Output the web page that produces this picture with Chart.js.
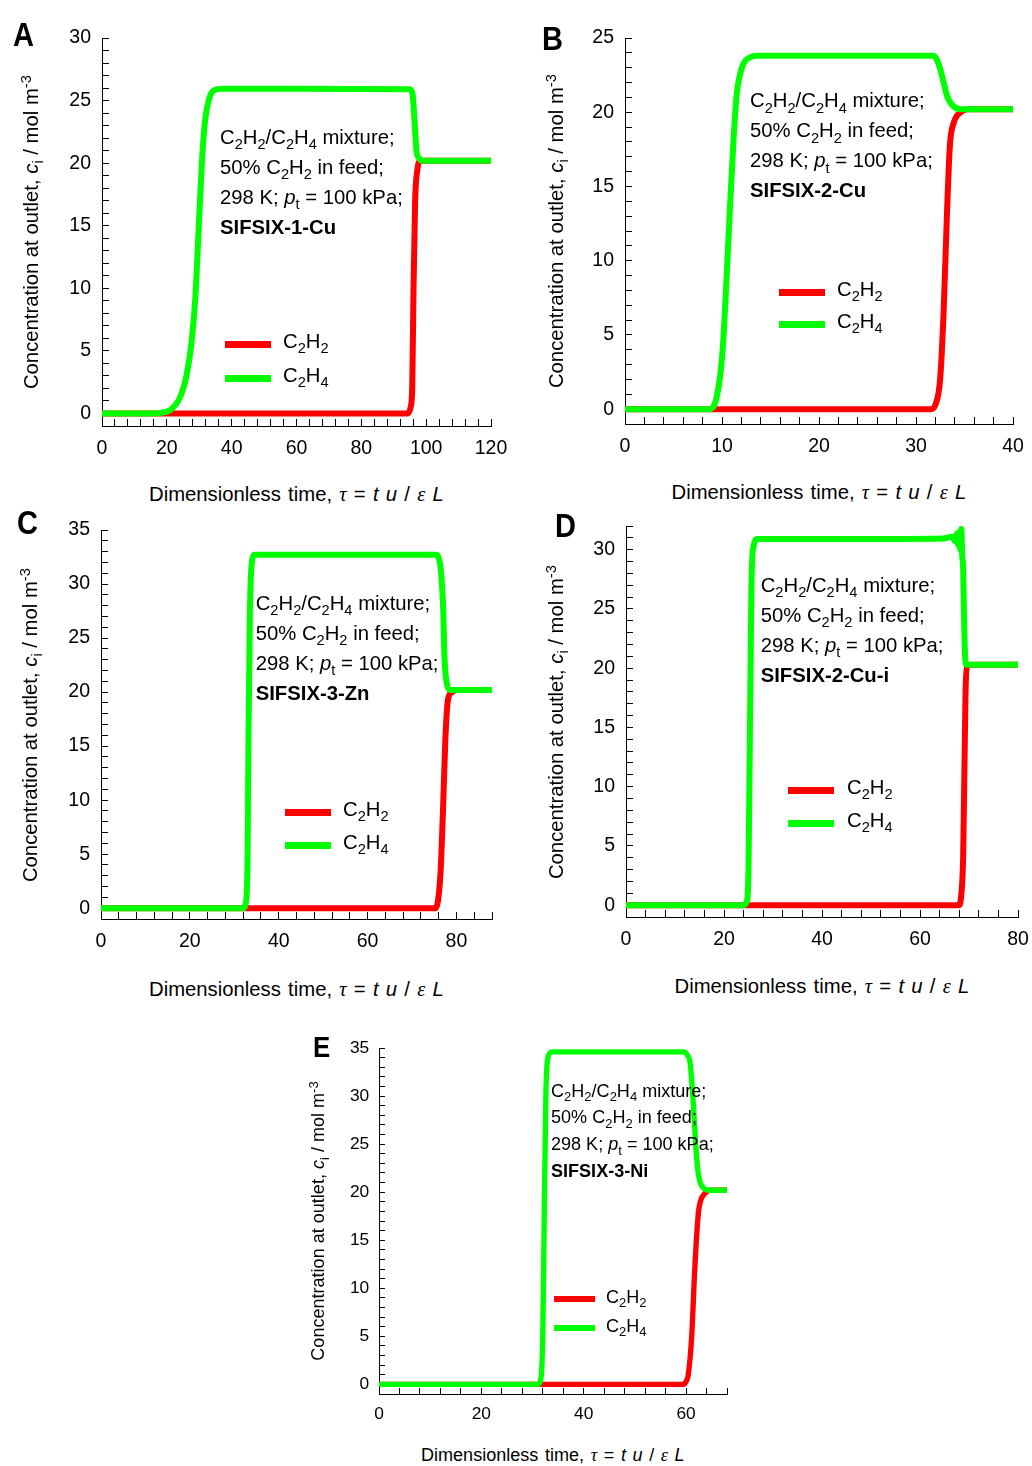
<!DOCTYPE html>
<html>
<head>
<meta charset="utf-8">
<script src="https://cdn.jsdelivr.net/npm/chart.js@4.4.1/dist/chart.umd.min.js"></script>
<style>
  body { margin: 0; background: #fff; overflow: hidden; }
  #page { position: relative; width: 1032px; height: 1466px; font-family: "Liberation Sans", Arial, sans-serif; color: #000; }
  #page canvas { position: absolute; }
  .txt { position: absolute; white-space: nowrap; line-height: 1; }
  .txt sub, .txt sup { font-size: 0.72em; line-height: 0; position: relative; vertical-align: baseline; }
  .txt sub { top: 0.36em; }
  .txt sup { top: -0.5em; }
  .letter { font-weight: bold; transform: scaleX(0.88); transform-origin: 0 0; }
  .xtitle { word-spacing: 1.6px; }
  .key { position: absolute; }
  .greek { font-family: "Liberation Serif", "Times New Roman", serif; font-style: italic; }
</style>
</head>
<body>
<div id="page"></div>
<script>
// Breakthrough curves at the column outlet, one pair per adsorbent.
// tau = dimensionless time, c = concentration (mol m^-3)

// A: SIFSIX-1-Cu
const tauA_C2H4 = [0, 15, 18, 21, 24.1, 26.2, 27.7, 28.8, 29.8, 30.8, 31.8, 32.9, 34.4, 37.5, 60, 95.0, 95.8, 96.5, 97.0, 97.8, 98.5, 120];
const cA_C2H4   = [0, 0, 0.05, 0.26, 1.3, 3.2, 5.9, 9.3, 14.6, 20.0, 23.4, 25.0, 25.8, 25.95, 25.95, 25.9, 25.5, 23.0, 21.0, 20.4, 20.2, 20.2];
const tauA_C2H2 = [0, 94.3, 95.2, 95.7, 96.1, 96.6, 97.3, 98.3, 120];
const cA_C2H2   = [0, 0, 0.5, 2, 10, 17, 19.5, 20.2, 20.2];

// B: SIFSIX-2-Cu
const tauB_C2H4 = [0, 8.6, 9.1, 9.78, 10.1, 10.47, 10.8, 11.16, 11.5, 12.0, 12.9, 13.7, 31.8, 32.1, 32.5, 32.85, 33.2, 33.7, 34.6, 40];
const cB_C2H4   = [0, 0, 0.15, 2.1, 4.3, 8.8, 13.3, 17.8, 21.1, 22.9, 23.7, 23.8, 23.8, 23.6, 22.9, 22.0, 21.1, 20.5, 20.2, 20.2];
const tauB_C2H2 = [0, 31.5, 32.0, 32.5, 32.85, 33.2, 33.5, 33.9, 34.6, 35.4, 40];
const cB_C2H2   = [0, 0, 0.3, 2.1, 6.6, 13.3, 17.8, 19.3, 20.0, 20.2, 20.2];

// C: SIFSIX-3-Zn
const tauC_C2H4 = [0, 32.0, 32.6, 33.0, 33.2, 33.5, 33.9, 34.6, 75.5, 76.0, 76.4, 77.0, 77.3, 77.9, 78.6, 88];
const cC_C2H4   = [0, 0, 0.5, 5, 16, 27, 31.8, 32.7, 32.7, 32.4, 31.6, 27.9, 23.3, 20.65, 20.2, 20.2];
const tauC_C2H2 = [0, 75.3, 76.4, 77.0, 77.5, 78.1, 79.0, 80.0, 88];
const cC_C2H2   = [0, 0, 3.2, 9.4, 15.6, 19.3, 20.0, 20.2, 20.2];

// D: SIFSIX-2-Cu-i (small oscillation just before the roll-up ends)
const tauD_C2H4 = [0, 24.0, 24.7, 25.0, 25.3, 25.6, 26.0, 26.8, 45, 64.7, 66.5, 67.2, 67.5, 67.8, 68.0, 68.2, 68.45, 68.6, 68.8, 69.0, 69.2, 69.5, 80];
const cD_C2H4   = [0, 0, 0.4, 3, 15, 27, 30.2, 30.9, 30.9, 30.95, 31.1, 30.7, 31.35, 30.4, 31.5, 30.0, 31.75, 29.6, 28.5, 24, 21, 20.3, 20.3];
const tauD_C2H2 = [0, 67.9, 68.4, 68.8, 69.1, 69.3, 69.6, 70.5, 80];
const cD_C2H2   = [0, 0, 0.8, 4, 12.4, 18, 20.1, 20.3, 20.3];

// E: SIFSIX-3-Ni
const tauE_C2H4 = [0, 31.0, 31.6, 32.0, 32.3, 32.6, 33.0, 33.8, 59.5, 60.2, 60.8, 61.4, 61.9, 62.3, 62.7, 63.7, 64.5, 68];
const cE_C2H4   = [0, 0, 0.5, 5, 18, 30, 34, 34.6, 34.6, 34.3, 33.4, 29.3, 24.8, 22.3, 21.1, 20.3, 20.2, 20.2];
const tauE_C2H2 = [0, 59.5, 60.0, 60.4, 61.1, 61.7, 62.4, 62.9, 63.4, 64.7, 68];
const cE_C2H2   = [0, 0, 0.3, 0.9, 5.0, 12.0, 17.8, 19.2, 19.7, 20.2, 20.2];

// axis ranges: [min, max, minor step, labelled step]
const xAxisA = [0, 120, 4, 20], yAxisA = [-1, 30, 1, 5];
const xAxisB = [0, 40, 2, 10],  yAxisB = [-1, 25, 1, 5];
const xAxisC = [0, 88, 4, 20],  yAxisC = [-1, 35, 1, 5];
const xAxisD = [0, 80, 4, 20],  yAxisD = [-1, 32, 1, 5];
const xAxisE = [0, 68, 4, 20],  yAxisE = [-1, 35, 1, 5];

const materials = ['SIFSIX-1-Cu', 'SIFSIX-2-Cu', 'SIFSIX-3-Zn', 'SIFSIX-2-Cu-i', 'SIFSIX-3-Ni'];

const RED = '#ff0000';
const GREEN = '#00ff00';

// layout of each panel: plot box [left, top, right, bottom], s = text scale.
// text anchors are baselines: letter [x, base], note [x, first base], key [bar x, red y, green y, text x]
const panels = [
  { tag: 'A', plot: [102, 38, 491, 426], x: xAxisA, y: yAxisA, green: [tauA_C2H4, cA_C2H4], red: [tauA_C2H2, cA_C2H2], name: materials[0],
    s: 1, letter: [13, 46], note: [220, 144], key: [225, 344, 378, 283], xTitleBase: 501, yTitleBase: 37.7 },
  { tag: 'B', plot: [625, 38, 1013, 424], x: xAxisB, y: yAxisB, green: [tauB_C2H4, cB_C2H4], red: [tauB_C2H2, cB_C2H2], name: materials[1],
    s: 1, letter: [542, 50], note: [750, 107.3], key: [779, 292, 324, 837], xTitleBase: 499, yTitleBase: 562.7 },
  { tag: 'C', plot: [101, 530, 492, 919], x: xAxisC, y: yAxisC, green: [tauC_C2H4, cC_C2H4], red: [tauC_C2H2, cC_C2H2], name: materials[2],
    s: 1, letter: [17, 534], note: [255.7, 610], key: [285, 812, 845, 343], xTitleBase: 995.7, yTitleBase: 37.3 },
  { tag: 'D', plot: [626, 526, 1018, 917], x: xAxisD, y: yAxisD, green: [tauD_C2H4, cD_C2H4], red: [tauD_C2H2, cD_C2H2], name: materials[3],
    s: 1, letter: [555, 536.7], note: [760.7, 591.7], key: [788, 790, 823, 847], xTitleBase: 993.3, yTitleBase: 562.7 },
  { tag: 'E', plot: [379, 1048, 727, 1394], x: xAxisE, y: yAxisE, green: [tauE_C2H4, cE_C2H4], red: [tauE_C2H2, cE_C2H2], name: materials[4],
    s: 0.89, letter: [313, 1057.3], note: [551, 1097.3], key: [554, 1299, 1328, 606], xTitleBase: 1461.7, yTitleBase: 323.3 }
];

const page = document.getElementById('page');
const FONT = '"Liberation Sans", Arial, sans-serif';
const BASE = 0.8465; // baseline offset (em) inside a line-height:1 box

function toPoints(tau, c) {
  return tau.map((t, i) => ({ x: t, y: c[i] }));
}

function addText(html, left, top, size, extra) {
  const d = document.createElement('div');
  d.className = 'txt' + (extra ? ' ' + extra : '');
  d.style.left = left + 'px';
  d.style.top = top + 'px';
  d.style.fontSize = size + 'px';
  d.innerHTML = html;
  page.appendChild(d);
  return d;
}

function axisOptions(range, fs, tl, pad, fitSize, horizontal) {
  const [min, max, step, major] = range;
  return {
    type: 'linear',
    min: min,
    max: max,
    border: { display: true, color: '#000', width: 1 },
    grid: { drawOnChartArea: false, drawTicks: true, tickLength: tl, color: '#000', lineWidth: 1 },
    ticks: {
      stepSize: step,
      autoSkip: false,
      maxRotation: 0,
      padding: pad,
      color: '#000',
      font: { family: FONT, size: fs },
      callback: v => (v >= 0 && Math.abs(v % major) < 1e-9) ? String(v) : ''
    },
    afterFit: s => { if (horizontal) s.height = fitSize; else s.width = fitSize; }
  };
}

function drawPanel(p) {
  const [L, T, R, B] = p.plot;
  const padL = 70, padT = 45, padR = 50, padB = 40;
  const s = p.s;
  const tickFs = 19.5 * s;   // tick labels
  const fs = 20.3 * s;       // titles, note, legend
  const tl = -Math.round(7 * s);

  const cv = document.createElement('canvas');
  cv.width = R - L + padL + padR;
  cv.height = B - T + padT + padB;
  cv.style.left = (L - padL) + 'px';
  cv.style.top = (T - padT) + 'px';
  page.appendChild(cv);

  const lw = 6 * s;
  new Chart(cv, {
    type: 'line',
    data: {
      datasets: [
        { label: 'C2H4', data: toPoints(p.green[0], p.green[1]), borderColor: GREEN, borderWidth: lw,
          pointRadius: 0, fill: false, cubicInterpolationMode: 'monotone', borderJoinStyle: 'round' },
        { label: 'C2H2', data: toPoints(p.red[0], p.red[1]), borderColor: RED, borderWidth: lw,
          pointRadius: 0, fill: false, cubicInterpolationMode: 'monotone', borderJoinStyle: 'round' }
      ]
    },
    options: {
      responsive: false,
      animation: false,
      events: [],
      layout: { padding: { left: 0, top: padT, right: padR, bottom: 0 } },
      plugins: { legend: { display: false }, tooltip: { enabled: false } },
      scales: {
        x: axisOptions(p.x, tickFs, tl, 23 * s - tickFs * 0.6 - tl, padB, true),
        y: axisOptions(p.y, tickFs, tl, 11 * s - tl, padL, false)
      }
    }
  });

  // panel letter
  const lfs = 33 * s;
  addText(p.tag, p.letter[0], p.letter[1] - BASE * lfs, lfs, 'letter');

  // conditions note
  const lh = 30 * s;
  const noteTop = p.note[1] - ((lh - 1.117 * fs) / 2 + 0.905 * fs);
  const note = addText(
    'C<sub>2</sub>H<sub>2</sub>/C<sub>2</sub>H<sub>4</sub> mixture;<br>' +
    '50% C<sub>2</sub>H<sub>2</sub> in feed;<br>' +
    '298 K; <i>p</i><sub>t</sub> = 100 kPa;<br>' +
    '<b>' + p.name + '</b>', p.note[0], noteTop, fs);
  note.style.lineHeight = lh + 'px';

  // legend
  const [kx, ky1, ky2, tx] = p.key;
  const klen = 46 * s, kth = 7 * s;
  [[ky1, RED, 'C<sub>2</sub>H<sub>2</sub>'], [ky2, GREEN, 'C<sub>2</sub>H<sub>4</sub>']].forEach(([ky, col, lab]) => {
    const bar = document.createElement('div');
    bar.className = 'key';
    bar.style.left = kx + 'px';
    bar.style.top = (ky - kth / 2) + 'px';
    bar.style.width = klen + 'px';
    bar.style.height = kth + 'px';
    bar.style.background = col;
    page.appendChild(bar);
    addText(lab, tx, ky + 4.3 * s - BASE * fs, fs);
  });

  // x axis title, centred on the plot
  const xt = addText('Dimensionless time, <span class="greek">τ</span> = <i>t u</i> / <span class="greek">ε</span> <i>L</i>',
    0, p.xTitleBase - BASE * fs, fs, 'xtitle');
  xt.style.left = ((L + R) / 2 - xt.offsetWidth / 2) + 'px';

  // y axis title, rotated and centred on the plot
  const yt = addText('Concentration at outlet, <i>c</i><sub>i</sub> / mol m<sup>-3</sup>', 0, 0, fs);
  const w = yt.offsetWidth, h = yt.offsetHeight;
  const cx = p.yTitleBase - (BASE - 0.5) * fs;
  yt.style.left = (cx - w / 2) + 'px';
  yt.style.top = ((T + B) / 2 - h / 2) + 'px';
  yt.style.transform = 'rotate(-90deg)';
}

panels.forEach(drawPanel);
</script>
</body>
</html>
